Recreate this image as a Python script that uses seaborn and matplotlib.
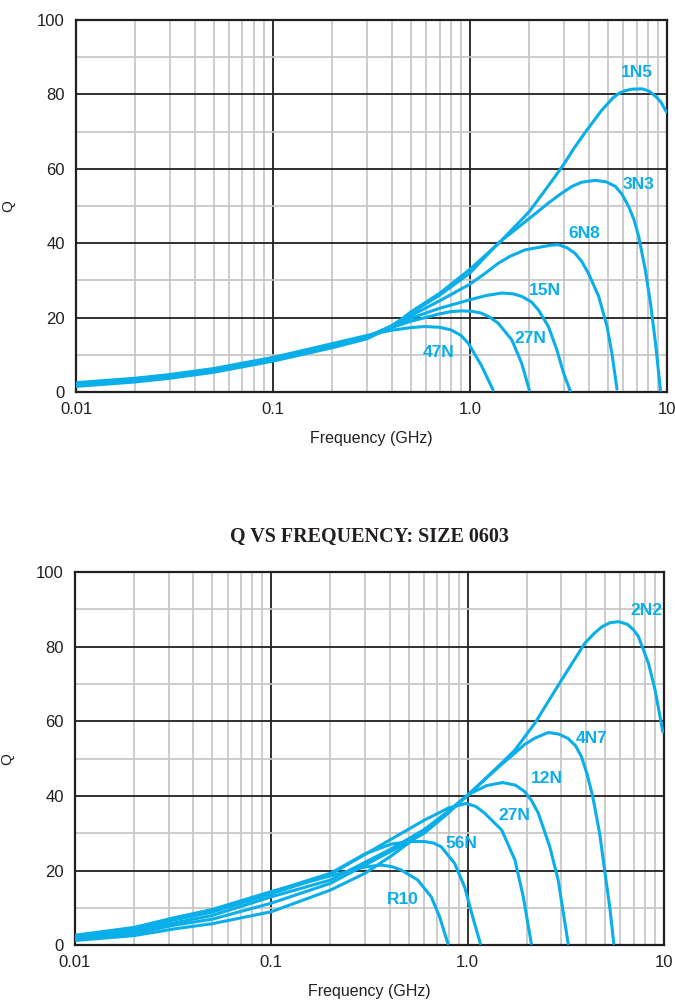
import numpy as np
import pandas as pd
import matplotlib
matplotlib.use("Agg")
import matplotlib.pyplot as plt
import seaborn as sns
from matplotlib.ticker import FixedLocator, NullFormatter

# data (frequency in GHz, Q)
top_parts = ["1N5", "3N3", "6N8", "15N", "27N", "47N"]
top_freq = {
    "1N5": [0.01, 0.02, 0.03, 0.05, 0.1, 0.2, 0.3, 0.4, 0.5, 0.7, 1.0, 1.4, 2.0, 2.31, 2.65, 2.98, 3.4, 3.84, 4.67, 5.3, 5.7, 6.14, 6.6, 7.47, 8.1, 8.74, 9.3, 9.82, 10.0],
    "3N3": [0.01, 0.02, 0.03, 0.05, 0.1, 0.2, 0.3, 0.4, 0.5, 0.7, 1.0, 1.39, 2.06, 2.5, 2.93, 3.3, 3.69, 4.32, 4.9, 5.46, 5.9, 6.38, 6.8, 7.18, 7.76, 8.24, 8.74, 9.26],
    "6N8": [0.01, 0.02, 0.03, 0.05, 0.1, 0.2, 0.3, 0.4, 0.5, 0.7, 1.0, 1.2, 1.39, 1.6, 1.9, 2.3, 2.6, 2.81, 3.1, 3.41, 3.7, 3.99, 4.5, 4.96, 5.25, 5.57],
    "15N": [0.01, 0.02, 0.03, 0.05, 0.1, 0.2, 0.3, 0.4, 0.5, 0.7, 1.0, 1.2, 1.45, 1.65, 1.83, 2.05, 2.22, 2.5, 2.76, 2.98, 3.22],
    "27N": [0.01, 0.02, 0.03, 0.05, 0.1, 0.2, 0.3, 0.4, 0.5, 0.7, 0.8, 0.9, 1.02, 1.14, 1.26, 1.39, 1.63, 1.83, 2.0],
    "47N": [0.01, 0.02, 0.03, 0.05, 0.1, 0.2, 0.3, 0.4, 0.5, 0.587, 0.7, 0.8, 0.9, 0.98, 1.14, 1.31],
}
top_q = {
    "1N5": [1.5, 2.7, 3.7, 5.3, 8.3, 11.9, 14.3, 17.5, 21.5, 26.5, 33.0, 40.0, 48.5, 53.0, 57.3, 61.1, 65.8, 69.8, 75.8, 79.0, 80.3, 81.0, 81.4, 81.5, 80.9, 79.5, 78.0, 75.7, 75.2],
    "3N3": [1.7, 2.9, 3.9, 5.5, 8.5, 12.2, 14.6, 17.8, 21.2, 26.0, 32.0, 40.0, 47.2, 50.8, 53.5, 55.3, 56.4, 56.9, 56.5, 55.3, 53.2, 49.9, 46.3, 41.8, 32.8, 23.9, 13.1, 0.5],
    "6N8": [1.9, 3.1, 4.1, 5.7, 8.7, 12.4, 14.8, 17.8, 20.5, 24.5, 29.0, 32.0, 34.6, 36.5, 38.2, 39.0, 39.5, 39.6, 38.8, 37.3, 35.0, 31.9, 25.7, 17.6, 10.4, 0.8],
    "15N": [2.1, 3.3, 4.3, 5.9, 8.9, 12.6, 14.9, 17.5, 19.8, 22.5, 24.8, 25.9, 26.6, 26.4, 25.7, 24.2, 22.1, 17.6, 11.3, 5.2, 0.4],
    "27N": [2.3, 3.5, 4.5, 6.1, 9.1, 12.8, 15.0, 17.3, 19.0, 21.0, 21.6, 21.8, 21.7, 21.2, 20.1, 18.5, 14.0, 7.7, 0.5],
    "47N": [2.5, 3.7, 4.7, 6.3, 9.3, 13.0, 15.2, 16.6, 17.3, 17.6, 17.4, 16.7, 15.2, 13.1, 7.2, 0.5],
}
top_label_pos = {"1N5": (7.0, 86), "3N3": (7.2, 55.8), "6N8": (3.8, 42.6),
                 "15N": (2.4, 27.3), "27N": (2.03, 14.5), "47N": (0.69, 10.5)}

bot_parts = ["2N2", "4N7", "12N", "27N", "56N", "R10"]
bot_freq = {
    "2N2": [0.01, 0.02, 0.032, 0.05, 0.1, 0.2, 0.3, 0.407, 0.6, 0.8, 1.0, 1.49, 1.74, 2.2, 3.01, 3.95, 4.4, 4.82, 5.3, 5.86, 6.5, 7.0, 7.41, 8.34, 9.01, 9.86],
    "4N7": [0.01, 0.02, 0.032, 0.05, 0.1, 0.2, 0.407, 0.6, 0.8, 1.0, 1.49, 1.74, 1.95, 2.2, 2.57, 2.9, 3.25, 3.55, 3.8, 4.05, 4.33, 4.7, 4.99, 5.3, 5.55],
    "12N": [0.01, 0.02, 0.032, 0.05, 0.1, 0.2, 0.407, 0.6, 0.8, 1.0, 1.25, 1.51, 1.75, 1.95, 2.12, 2.29, 2.62, 2.89, 3.25],
    "27N": [0.01, 0.02, 0.032, 0.05, 0.1, 0.2, 0.407, 0.6, 0.8, 0.98, 1.1, 1.22, 1.49, 1.74, 1.92, 2.11],
    "56N": [0.01, 0.02, 0.032, 0.05, 0.1, 0.2, 0.3, 0.407, 0.5, 0.603, 0.67, 0.733, 0.857, 0.964, 1.06, 1.16],
    "R10": [0.01, 0.02, 0.032, 0.05, 0.1, 0.2, 0.3, 0.362, 0.41, 0.458, 0.557, 0.652, 0.719, 0.793],
}
bot_q = {
    "2N2": [1.3, 2.6, 4.4, 5.8, 9.0, 14.8, 19.3, 23.9, 30.5, 35.8, 40.2, 48.8, 52.3, 59.5, 71.1, 80.9, 83.5, 85.3, 86.4, 86.7, 86.0, 84.5, 82.7, 75.5, 68.4, 57.2],
    "4N7": [1.6, 3.2, 5.4, 7.0, 11.3, 16.6, 25.2, 30.0, 35.5, 40.2, 48.5, 51.5, 53.8, 55.5, 57.0, 56.6, 55.4, 53.4, 50.5, 46.0, 40.0, 30.0, 20.0, 10.0, 0.5],
    "12N": [2.0, 3.8, 6.0, 8.0, 13.0, 17.5, 25.8, 31.0, 36.0, 40.3, 42.8, 43.6, 42.9, 41.2, 38.7, 35.4, 26.4, 17.5, 0.5],
    "27N": [2.4, 4.3, 6.8, 8.9, 13.8, 19.0, 28.4, 33.5, 36.8, 38.0, 37.2, 35.4, 30.9, 22.9, 13.0, 0.5],
    "56N": [2.6, 4.6, 7.2, 9.4, 14.3, 19.3, 24.5, 27.1, 27.8, 27.8, 27.4, 26.4, 22.0, 15.7, 7.7, 0.5],
    "R10": [2.7, 4.8, 7.4, 9.6, 14.4, 18.6, 21.0, 21.5, 21.1, 20.2, 17.5, 13.0, 7.7, 0.5],
}
bot_label_pos = {"2N2": (8.1, 89.8), "4N7": (4.3, 55.5), "12N": (2.52, 44.7),
                 "27N": (1.72, 34.8), "56N": (0.93, 27.2), "R10": (0.47, 12.4)}

sns.set_style("white")
plt.rcParams["font.family"] = ["Liberation Sans", "DejaVu Sans"]

curve_color = "#0AAEE8"
ink = "#231f20"

fig = plt.figure(figsize=(6.75, 10.01), dpi=100)
ax_top = fig.add_axes([0.1126, 0.6084, 0.8756, 0.3716])
ax_bot = fig.add_axes([0.1111, 0.0556, 0.8726, 0.3730])


def draw_panel(ax, parts, freq, q, label_pos):
    for p in parts:
        df = pd.DataFrame({"freq": freq[p], "Q": q[p]})
        sns.lineplot(data=df, x="freq", y="Q", ax=ax, color=curve_color,
                     lw=2.2, sort=False, estimator=None, zorder=5)
        lx, ly = label_pos[p]
        ax.text(lx, ly, p, color=curve_color, fontsize=12.5, fontweight="bold",
                ha="center", va="center", zorder=6)
    ax.set_xscale("log")
    ax.set_xlim(0.01, 10)
    ax.set_ylim(0, 100)
    ax.xaxis.set_major_locator(FixedLocator([0.01, 0.1, 1.0, 10]))
    ax.set_xticklabels(["0.01", "0.1", "1.0", "10"])
    minors = [m * d for d in [0.01, 0.1, 1.0] for m in range(2, 10)]
    ax.xaxis.set_minor_locator(FixedLocator(minors))
    ax.xaxis.set_minor_formatter(NullFormatter())
    ax.yaxis.set_major_locator(FixedLocator([0, 20, 40, 60, 80, 100]))
    ax.yaxis.set_minor_locator(FixedLocator([10, 30, 50, 70, 90]))
    ax.grid(which="minor", color="#c4c4c4", lw=1.2, zorder=1)
    ax.grid(which="major", color=ink, lw=1.3, zorder=2)
    ax.set_axisbelow(True)
    for s in ax.spines.values():
        s.set_color(ink)
        s.set_linewidth(1.6)
        s.set_visible(True)
    ax.tick_params(which="both", length=0, labelsize=12, colors=ink)
    ax.tick_params(axis="x", pad=7)
    ax.tick_params(axis="y", pad=8)
    ax.set_xlabel("Frequency (GHz)", fontsize=11.5, labelpad=10, color=ink)
    ax.set_ylabel("Q", fontsize=11, labelpad=16, color=ink)


draw_panel(ax_top, top_parts, top_freq, top_q, top_label_pos)
draw_panel(ax_bot, bot_parts, bot_freq, bot_q, bot_label_pos)

fig.text(0.548, 0.4635, "Q VS FREQUENCY: SIZE 0603", ha="center", va="center",
         fontsize=14.5, fontweight="bold", family=["Liberation Serif", "DejaVu Serif"],
         color=ink)

fig.savefig("out.png", dpi=100)
